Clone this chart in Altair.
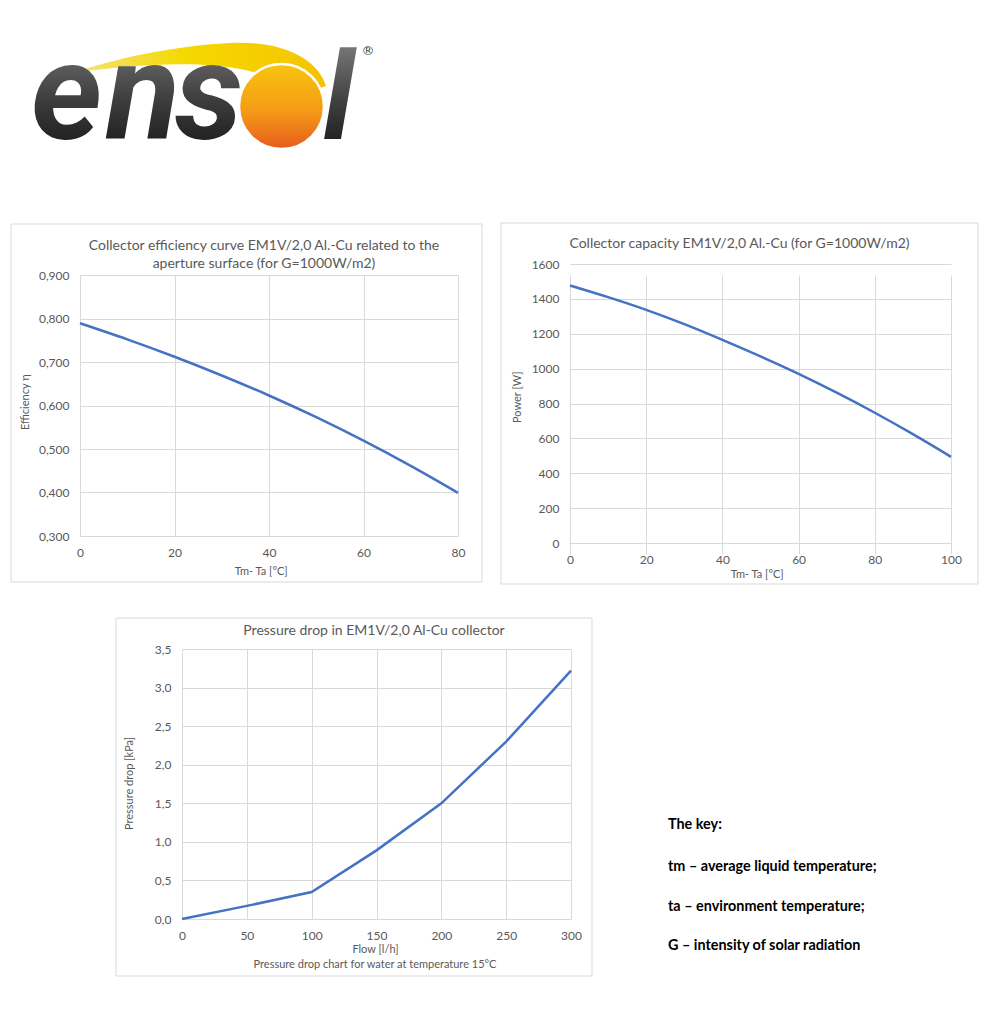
import altair as alt
import pandas as pd

# ---------------- data ----------------
temp_eff = [0, 10, 20, 30, 40, 50, 60, 70, 80]
efficiency = [0.789, 0.752, 0.712, 0.669, 0.623, 0.573, 0.519, 0.461, 0.399]

temp_pow = [0, 10, 20, 30, 40, 50, 60, 70, 80, 90, 100]
power = [1477, 1410, 1337, 1255, 1165, 1070, 970, 862, 747, 624, 494]

flow = [0, 50, 100, 150, 200, 250, 300]
pressure = [0.0, 0.17, 0.35, 0.89, 1.50, 2.30, 3.22]

title1 = ["Collector efficiency curve EM1V/2,0 Al.-Cu related to the",
          "aperture surface (for G=1000W/m2)"]
title2 = "Collector capacity EM1V/2,0 Al.-Cu (for G=1000W/m2)"
title3 = "Pressure drop in EM1V/2,0 Al-Cu collector"
note3 = "Pressure drop chart for water at temperature 15°C"
key_lines = ["The key:",
             "tm \u2013 average liquid temperature;",
             "ta \u2013 environment temperature;",
             "G \u2013 intensity of solar radiation"]

FONT = "Lato"
GRAY = "#595959"
GRID = "#d9d9d9"
BLUE = "#4472C4"

one = pd.DataFrame({"k": [0]})


def box(x1, x2, y1, y2, **kw):
    return alt.Chart(one).mark_rect(**kw).encode(
        x=alt.value(x1), x2=alt.value(x2), y=alt.value(y1), y2=alt.value(y2))


def label(txt, x, y, size, color=GRAY, weight="normal", align="center", font=FONT, **kw):
    return alt.Chart(one).mark_text(
        text=txt, font=font, fontSize=size, color=color, fontWeight=weight,
        align=align, baseline="middle", **kw).encode(x=alt.value(x), y=alt.value(y))


def axis(values, expr, tx, ty, title, angle=0, offset=0):
    return alt.Axis(values=values, labelExpr=expr, grid=True, gridColor=GRID, gridWidth=1,
                    domain=False, ticks=False, tickSize=0, labelPadding=11, offset=offset,
                    labelFlush=False, labelOverlap=False,
                    labelFont=FONT, labelFontSize=12, labelColor=GRAY,
                    title=title, titleFont=FONT, titleFontSize=11, titleColor=GRAY,
                    titleFontWeight="normal", titleX=tx, titleY=ty, titleAngle=angle,
                    titleAlign="center", titleBaseline="middle")


# ---------------- panel 1 (logo + efficiency) ----------------
# plot origin at page (80, 275)
W1, H1 = 378, 261
OX1, OY1 = 80, 275

grad_letters = alt.LinearGradient(gradient="linear", x1=0, y1=0, x2=0, y2=1,
                                  stops=[alt.GradientStop(color="#8a8a8a", offset=0),
                                         alt.GradientStop(color="#3d3d3d", offset=0.55),
                                         alt.GradientStop(color="#0d0d0d", offset=1)])
grad_sun = alt.LinearGradient(gradient="linear", x1=0, y1=0, x2=0, y2=1,
                              stops=[alt.GradientStop(color="#f9c40f", offset=0),
                                     alt.GradientStop(color="#f49c17", offset=0.55),
                                     alt.GradientStop(color="#e85a1c", offset=1)])
grad_swoosh = alt.LinearGradient(gradient="linear", x1=0, y1=0, x2=1, y2=0,
                                 stops=[alt.GradientStop(color="#f4e37a", offset=0),
                                        alt.GradientStop(color="#f5d800", offset=0.45),
                                        alt.GradientStop(color="#f6c300", offset=1)])


def logo_letter(ch, px, py, size):
    return alt.Chart(one).mark_text(
        text=ch, font="Roboto", fontSize=size, fontWeight="bold", fontStyle="italic",
        fill=grad_letters, align="left", baseline="alphabetic").encode(
        x=alt.value(px - OX1), y=alt.value(py - OY1))


swoosh_path = ("M0,0 C37,-13 97,-27 157,-30 C207,-33 245,-15 253,13 L227,22 L189,2 "
               "C147,-15 57,-9 0,0 Z")
swoosh = alt.Chart(one).mark_point(
    shape=swoosh_path, size=4, filled=True, fill=grad_swoosh, strokeWidth=0, opacity=1).encode(
    x=alt.value(73 - OX1), y=alt.value(73 - OY1))
sun = alt.Chart(one).mark_point(
    shape="circle", size=7225, filled=True, fill=grad_sun, stroke="white",
    strokeWidth=2.5, opacity=1).encode(x=alt.value(281.5 - OX1), y=alt.value(106.5 - OY1))

df1 = pd.DataFrame({"t": temp_eff, "eff": efficiency})
line1 = alt.Chart(df1).mark_line(color=BLUE, strokeWidth=2.5, interpolate="monotone").encode(
    x=alt.X("t:Q", scale=alt.Scale(domain=[0, 80], nice=False),
            axis=axis([0, 20, 40, 60, 80], "format(datum.value, 'd')", 180.7, 35.7, "Tm- Ta [°C]")),
    y=alt.Y("eff:Q", scale=alt.Scale(domain=[0.3, 0.9], nice=False, zero=False),
            axis=axis([0.3, 0.4, 0.5, 0.6, 0.7, 0.8, 0.9],
                      "replace(format(datum.value, '.3f'), '.', ',')", -55, 126.7,
                      "Efficiency  η", 270)))

panel1 = alt.layer(
    box(-72, 419, -267, 325, opacity=0),
    box(-69, 402, -51, 307, fillOpacity=0, stroke=GRID, strokeWidth=1),
    swoosh,
    logo_letter("e", 31, 139, 136),
    logo_letter("n", 106, 139, 136),
    logo_letter("s", 175, 139, 136),
    sun,
    logo_letter("l", 323, 139, 122),
    label("®", 368 - OX1, 51 - OY1, 13, color="#444444", font="DejaVu Sans"),
    label(title1[0], 184, -29.3, 14),
    label(title1[1], 184, -10.7, 14),
    line1,
).properties(width=W1, height=H1)

# ---------------- panel 2 (capacity) ----------------
# view origin at page (570, 275); plot spans page y 264..543
W2, H2 = 381, 268
TOP2 = -11
df2 = pd.DataFrame({"t": temp_pow, "p": power})
line2 = alt.Chart(df2).mark_line(color=BLUE, strokeWidth=2.5, interpolate="monotone").encode(
    x=alt.X("t:Q", scale=alt.Scale(domain=[0, 100], nice=False),
            axis=axis([0, 20, 40, 60, 80, 100], "format(datum.value, 'd')", 186.7, 31.3, "Tm- Ta [°C]")),
    y=alt.Y("p:Q", scale=alt.Scale(domain=[0, 1600], nice=False, range=[H2, TOP2]),
            axis=axis([0, 200, 400, 600, 800, 1000, 1200, 1400, 1600],
                      "format(datum.value, 'd')", -53, 121.7, "Power [W]", 270)))

panel2 = alt.layer(
    box(-71, 420, -267, 325, opacity=0),
    box(-69, 408, -52, 309, fillOpacity=0, stroke=GRID, strokeWidth=1),
    label(title2, 169.5, -30.7, 14),
    line2,
).properties(width=W2, height=H2)

# ---------------- panel 3 (pressure drop + key) ----------------
# view origin at page (80, 649); plot spans page x 182..571
W3, H3 = 491, 270
LEFT3 = 102
OX3, OY3 = 80, 649
df3 = pd.DataFrame({"f": flow, "dp": pressure})
line3 = alt.Chart(df3).mark_line(color=BLUE, strokeWidth=2.5).encode(
    x=alt.X("f:Q", scale=alt.Scale(domain=[0, 300], nice=False, range=[LEFT3, W3]),
            axis=axis([0, 50, 100, 150, 200, 250, 300], "format(datum.value, 'd')", 295, 30.7, "Flow [l/h]")),
    y=alt.Y("dp:Q", scale=alt.Scale(domain=[0, 3.5], nice=False),
            axis=axis([0, 0.5, 1, 1.5, 2, 2.5, 3, 3.5],
                      "replace(format(datum.value, '.1f'), '.', ',')", -53, 134,
                      "Pressure drop [kPa]", 270, offset=-LEFT3)))

key_y = [825, 867, 907, 946]
key_layers = [label(t, 668 - OX3, yy - OY3, 14.4, color="#000000", weight="bold", align="left")
              for t, yy in zip(key_lines, key_y)]

panel3 = alt.layer(
    box(-72, 910, -49, 363, opacity=0),
    box(36, 512, -31, 327, fillOpacity=0, stroke=GRID, strokeWidth=1),
    label(title3, 294, -18.3, 14),
    label(note3, 295, H3 + 46.4, 11),
    *key_layers,
    line3,
).properties(width=W3, height=H3)

row = alt.hconcat(panel1, panel2, spacing=0)
chart = alt.vconcat(row, panel3, spacing=0).properties(padding=0).configure_view(stroke=None)

chart.save("out.html", embed_options={"renderer": "svg", "actions": False})
